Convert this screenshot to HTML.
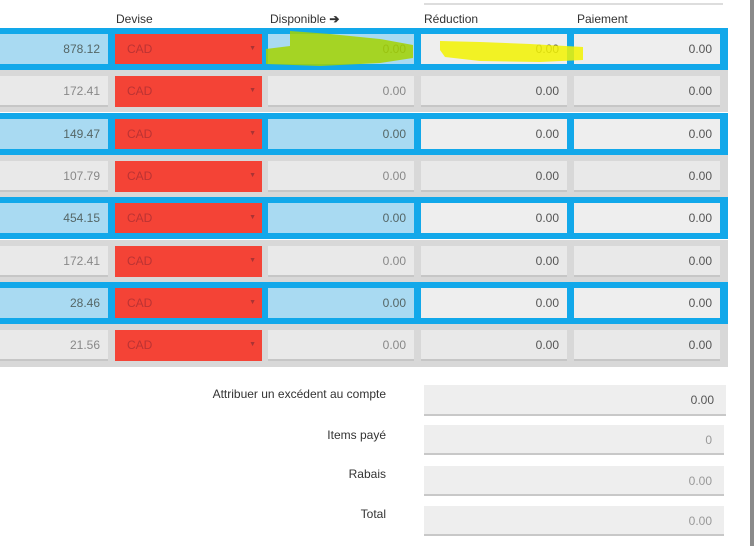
<!DOCTYPE html>
<html><head><meta charset="utf-8"><style>
body{margin:0;width:754px;height:546px;background:#fff;position:relative;overflow:hidden;font-family:"Liberation Sans",sans-serif;font-size:12px;}
.h{position:absolute;top:12px;color:#333;font-size:12px}
.row{position:absolute;left:0;width:728px;height:42px}
.blue{background:#12a8ea}
.gray{background:#d8d8d8}
.c{position:absolute;top:6px;height:30px;box-sizing:border-box;text-align:right;padding-right:8px;line-height:30px;font-size:12px;color:#666}
.gray .c{background:#e9e9e9;border-bottom:2px solid #c6c6c6;top:6px;height:31px;line-height:30px;color:#888}
.blue .lb{background:#a9daf2;color:#566}
.blue .w{background:#eeeeee;color:#555}
.gray .w{color:#555}
.red{background:#f44336 !important;color:#b33 !important;text-align:left;padding-left:12px;border-bottom:none !important}
.red:after{content:"▼";position:absolute;right:6px;font-size:7px;color:#a33}
.lab{position:absolute;right:368px;color:#333;font-size:12px}
.f{position:absolute;left:424px;width:302px;height:30px;background:#eeeeee;border-bottom:2px solid #c8c8c8;box-sizing:border-box;text-align:right;padding-right:12px;line-height:30px;color:#999}
</style></head><body>
<div style="position:absolute;left:424px;top:3px;width:299px;height:2px;background:#ddd"></div>
<div style="position:absolute;left:750px;top:0;width:4px;height:546px;background:#8a8a8a"></div>
<div class="h" style="left:116px">Devise</div>
<div class="h" style="left:270px">Disponible <b>➔</b></div>
<div class="h" style="left:424px">Réduction</div>
<div class="h" style="left:577px">Paiement</div>

<div class="row blue" style="top:28px"><div class="c lb" style="left:0;width:108px">878.12</div><div class="c red" style="left:115px;width:147px">CAD</div><div class="c lb" style="left:268px;width:146px">0.00</div><div class="c w" style="left:421px;width:146px">0.00</div><div class="c w" style="left:574px;width:146px">0.00</div></div>
<div class="row gray" style="top:70px"><div class="c" style="left:0;width:108px">172.41</div><div class="c red" style="left:115px;width:147px">CAD</div><div class="c" style="left:268px;width:146px">0.00</div><div class="c w" style="left:421px;width:146px">0.00</div><div class="c w" style="left:574px;width:146px">0.00</div></div>
<div class="row blue" style="top:113px"><div class="c lb" style="left:0;width:108px">149.47</div><div class="c red" style="left:115px;width:147px">CAD</div><div class="c lb" style="left:268px;width:146px">0.00</div><div class="c w" style="left:421px;width:146px">0.00</div><div class="c w" style="left:574px;width:146px">0.00</div></div>
<div class="row gray" style="top:155px"><div class="c" style="left:0;width:108px">107.79</div><div class="c red" style="left:115px;width:147px">CAD</div><div class="c" style="left:268px;width:146px">0.00</div><div class="c w" style="left:421px;width:146px">0.00</div><div class="c w" style="left:574px;width:146px">0.00</div></div>
<div class="row blue" style="top:197px"><div class="c lb" style="left:0;width:108px">454.15</div><div class="c red" style="left:115px;width:147px">CAD</div><div class="c lb" style="left:268px;width:146px">0.00</div><div class="c w" style="left:421px;width:146px">0.00</div><div class="c w" style="left:574px;width:146px">0.00</div></div>
<div class="row gray" style="top:240px"><div class="c" style="left:0;width:108px">172.41</div><div class="c red" style="left:115px;width:147px">CAD</div><div class="c" style="left:268px;width:146px">0.00</div><div class="c w" style="left:421px;width:146px">0.00</div><div class="c w" style="left:574px;width:146px">0.00</div></div>
<div class="row blue" style="top:282px"><div class="c lb" style="left:0;width:108px">28.46</div><div class="c red" style="left:115px;width:147px">CAD</div><div class="c lb" style="left:268px;width:146px">0.00</div><div class="c w" style="left:421px;width:146px">0.00</div><div class="c w" style="left:574px;width:146px">0.00</div></div>
<div class="row gray" style="top:324px;height:43px"><div class="c" style="left:0;width:108px">21.56</div><div class="c red" style="left:115px;width:147px">CAD</div><div class="c" style="left:268px;width:146px">0.00</div><div class="c w" style="left:421px;width:146px">0.00</div><div class="c w" style="left:574px;width:146px">0.00</div></div>

<svg style="position:absolute;left:0;top:0" width="754" height="100">
<polygon points="290,31 330,34 380,39 413,45 413,58 380,63 320,66 266,64 266,49 290,46" fill="#a4d200" opacity="0.85"/>
<polygon points="440,41 480,42 530,44 583,47 583,60 540,62 480,61 445,57 440,50" fill="#f2f200" opacity="0.85"/>
</svg>

<div class="lab" style="top:387px">Attribuer un excédent au compte</div>
<div class="f" style="top:385px;height:31px;color:#555">0.00</div>
<div class="lab" style="top:428px">Items payé</div>
<div class="f" style="top:425px;width:300px">0</div>
<div class="lab" style="top:467px">Rabais</div>
<div class="f" style="top:466px;width:300px">0.00</div>
<div class="lab" style="top:507px">Total</div>
<div class="f" style="top:506px;width:300px">0.00</div>
</body></html>
